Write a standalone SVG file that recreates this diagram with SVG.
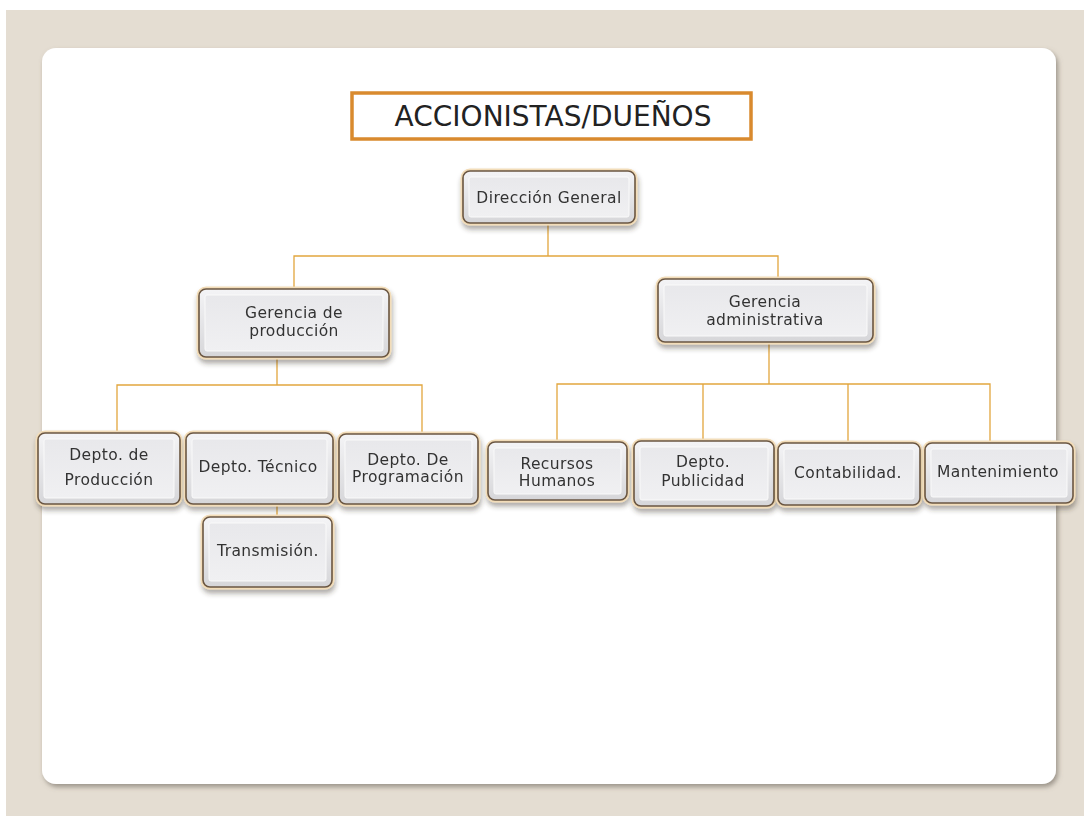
<svg xmlns="http://www.w3.org/2000/svg" width="1084" height="816" viewBox="0 0 1084 816">
<style>
.t{font-family:"DejaVu Sans","Verdana",sans-serif;font-size:15.5px;letter-spacing:0.4px;fill:#333;text-anchor:middle}
.c{fill:none;stroke:#e2a63e;stroke-width:1.3}
.o{fill:url(#gf);stroke:#6a5642;stroke-width:1.6}
.gl{fill:none;stroke:#f2dcb8;stroke-width:5}
.i{fill:url(#gi);stroke:#fafafa;stroke-width:1}
</style>
<defs>
<linearGradient id="gf" x1="0" y1="0" x2="0" y2="1">
<stop offset="0" stop-color="#f4f4f6"/>
<stop offset="1" stop-color="#d6d6d9"/>
</linearGradient>
<linearGradient id="gi" x1="0" y1="0" x2="0" y2="1">
<stop offset="0" stop-color="#e8e8eb"/>
<stop offset="1" stop-color="#f0f0f2"/>
</linearGradient>
<filter id="sh" x="-10%" y="-20%" width="125%" height="150%">
<feDropShadow dx="1" dy="4" stdDeviation="2.5" flood-color="#3a3020" flood-opacity="0.4"/>
</filter>
<filter id="psh" x="-5%" y="-5%" width="110%" height="110%">
<feDropShadow dx="2" dy="3" stdDeviation="2.5" flood-color="#6a6458" flood-opacity="0.6"/>
</filter>
</defs>
<rect x="0" y="0" width="1084" height="816" fill="#ffffff"/>
<rect x="6" y="10" width="1078" height="806" fill="#e4ddd2"/>
<rect x="42" y="48" width="1014" height="736" rx="14" fill="#ffffff" filter="url(#psh)"/>

<g id="connectors">
<path class="c" d="M548 223V256M294 289V256H778V279"/>
<path class="c" d="M277 358V385M117 433V385H422V433M277 503V517"/>
<path class="c" d="M769 342V384M557 442V384H990V443M703 384V441M848 384V443"/>
</g>

<g id="accionistas">
<rect x="352" y="93" width="399" height="46" fill="#ffffff" stroke="#d98a2e" stroke-width="3.5"/>
<text x="553" y="126" style="font-family:'DejaVu Sans','Verdana',sans-serif;font-size:28px;fill:#222;text-anchor:middle">ACCIONISTAS/DUEÑOS</text>
</g>

<g id="direccion" filter="url(#sh)">
<rect class="gl" x="463" y="171" width="172" height="52" rx="7"/>
<rect class="o" x="463" y="171" width="172" height="52" rx="7"/>
<rect class="i" x="469" y="177" width="160" height="40" rx="2"/>
<text class="t" x="549" y="203">Dirección General</text>
</g>

<g id="gerencia-produccion" filter="url(#sh)">
<rect class="gl" x="199" y="289" width="190" height="68" rx="7"/>
<rect class="o" x="199" y="289" width="190" height="68" rx="7"/>
<rect class="i" x="205" y="295" width="178" height="56" rx="2"/>
<text class="t" x="294" y="318">Gerencia de</text>
<text class="t" x="294" y="336">producción</text>
</g>

<g id="gerencia-administrativa" filter="url(#sh)">
<rect class="gl" x="658" y="279" width="215" height="63" rx="7"/>
<rect class="o" x="658" y="279" width="215" height="63" rx="7"/>
<rect class="i" x="664" y="285" width="203" height="51" rx="2"/>
<text class="t" x="765" y="307">Gerencia</text>
<text class="t" x="765" y="325">administrativa</text>
</g>

<g id="depto-produccion" filter="url(#sh)">
<rect class="gl" x="38" y="433" width="142" height="71" rx="7"/>
<rect class="o" x="38" y="433" width="142" height="71" rx="7"/>
<rect class="i" x="44" y="439" width="130" height="59" rx="2"/>
<text class="t" x="109" y="460">Depto. de</text>
<text class="t" x="109" y="485">Producción</text>
</g>

<g id="depto-tecnico" filter="url(#sh)">
<rect class="gl" x="186" y="433" width="147" height="71" rx="7"/>
<rect class="o" x="186" y="433" width="147" height="71" rx="7"/>
<rect class="i" x="192" y="439" width="135" height="59" rx="2"/>
<text class="t" x="258" y="472">Depto. Técnico</text>
</g>

<g id="depto-programacion" filter="url(#sh)">
<rect class="gl" x="339" y="434" width="139" height="70" rx="7"/>
<rect class="o" x="339" y="434" width="139" height="70" rx="7"/>
<rect class="i" x="345" y="440" width="127" height="58" rx="2"/>
<text class="t" x="408" y="465">Depto. De</text>
<text class="t" x="408" y="482">Programación</text>
</g>

<g id="transmision" filter="url(#sh)">
<rect class="gl" x="203" y="517" width="129" height="70" rx="7"/>
<rect class="o" x="203" y="517" width="129" height="70" rx="7"/>
<rect class="i" x="209" y="523" width="117" height="58" rx="2"/>
<text class="t" x="268" y="556">Transmisión.</text>
</g>

<g id="recursos-humanos" filter="url(#sh)">
<rect class="gl" x="488" y="442" width="139" height="58" rx="7"/>
<rect class="o" x="488" y="442" width="139" height="58" rx="7"/>
<rect class="i" x="494" y="448" width="127" height="46" rx="2"/>
<text class="t" x="557" y="469">Recursos</text>
<text class="t" x="557" y="486">Humanos</text>
</g>

<g id="depto-publicidad" filter="url(#sh)">
<rect class="gl" x="634" y="441" width="140" height="65" rx="7"/>
<rect class="o" x="634" y="441" width="140" height="65" rx="7"/>
<rect class="i" x="640" y="447" width="128" height="53" rx="2"/>
<text class="t" x="703" y="467">Depto.</text>
<text class="t" x="703" y="486">Publicidad</text>
</g>

<g id="contabilidad" filter="url(#sh)">
<rect class="gl" x="778" y="443" width="142" height="62" rx="7"/>
<rect class="o" x="778" y="443" width="142" height="62" rx="7"/>
<rect class="i" x="784" y="449" width="130" height="50" rx="2"/>
<text class="t" x="848" y="478">Contabilidad.</text>
</g>

<g id="mantenimiento" filter="url(#sh)">
<rect class="gl" x="925" y="443" width="148" height="60" rx="7"/>
<rect class="o" x="925" y="443" width="148" height="60" rx="7"/>
<rect class="i" x="931" y="449" width="136" height="48" rx="2"/>
<text class="t" x="998" y="477">Mantenimiento</text>
</g>
</svg>
